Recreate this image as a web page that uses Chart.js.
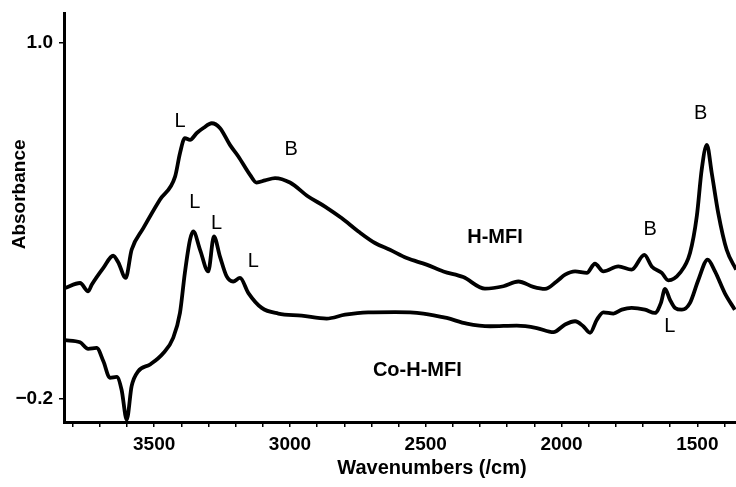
<!DOCTYPE html>
<html>
<head>
<meta charset="utf-8">
<script src="https://cdn.jsdelivr.net/npm/chart.js@4.4.0/dist/chart.umd.min.js"></script>
<style>
  html, body { margin: 0; padding: 0; background: #fff; overflow: hidden; }
  #wrap { width: 800px; height: 487px; }
</style>
</head>
<body>
<div id="wrap"><canvas id="spectrum" width="800" height="487"></canvas></div>
<script>
// spectra: wavenumber (/cm) and absorbance
const hmfiWn = [3828, 3773, 3743, 3730, 3687, 3651, 3632, 3605, 3583, 3540, 3479, 3423, 3405, 3387, 3368, 3343, 3319, 3288, 3258, 3221, 3190, 3147, 3123, 3092, 3055, 3000, 2933, 2871, 2810, 2748, 2687, 2632, 2570, 2497, 2435, 2362, 2282, 2214, 2159, 2104, 2061, 2018, 1987, 1950, 1907, 1877, 1846, 1791, 1742, 1695, 1668, 1631, 1607, 1564, 1527, 1502, 1484, 1465, 1447, 1423, 1392, 1357];
const hmfiAbs = [0.174, 0.191, 0.163, 0.185, 0.242, 0.283, 0.260, 0.208, 0.303, 0.376, 0.472, 0.550, 0.629, 0.680, 0.674, 0.697, 0.714, 0.730, 0.714, 0.657, 0.618, 0.556, 0.530, 0.537, 0.545, 0.530, 0.483, 0.449, 0.410, 0.365, 0.326, 0.303, 0.275, 0.253, 0.230, 0.211, 0.172, 0.180, 0.196, 0.178, 0.171, 0.196, 0.219, 0.230, 0.225, 0.256, 0.230, 0.247, 0.236, 0.286, 0.247, 0.225, 0.200, 0.225, 0.292, 0.416, 0.573, 0.657, 0.562, 0.427, 0.303, 0.236];

const cohmfiWn = [3828, 3773, 3743, 3712, 3687, 3663, 3638, 3620, 3601, 3583, 3559, 3515, 3466, 3430, 3405, 3387, 3368, 3356, 3331, 3301, 3280, 3258, 3233, 3209, 3184, 3153, 3104, 3043, 2957, 2865, 2797, 2712, 2613, 2509, 2423, 2349, 2263, 2165, 2091, 2030, 1987, 1950, 1920, 1895, 1870, 1846, 1809, 1778, 1742, 1693, 1656, 1634, 1619, 1601, 1582, 1557, 1527, 1496, 1462, 1435, 1399, 1362];
const cohmfiAbs = [-0.002, -0.009, -0.031, -0.028, -0.073, -0.129, -0.126, -0.169, -0.270, -0.157, -0.107, -0.084, -0.045, 0.006, 0.090, 0.225, 0.337, 0.365, 0.303, 0.230, 0.348, 0.281, 0.213, 0.196, 0.208, 0.157, 0.107, 0.088, 0.081, 0.071, 0.084, 0.092, 0.093, 0.088, 0.073, 0.054, 0.045, 0.047, 0.039, 0.025, 0.051, 0.062, 0.045, 0.023, 0.067, 0.092, 0.088, 0.101, 0.107, 0.101, 0.090, 0.124, 0.171, 0.135, 0.107, 0.101, 0.124, 0.202, 0.270, 0.230, 0.157, 0.101];

const xTickLabels = [3500, 3000, 2500, 2000, 1500];
const yTickValues = [-0.2, 1.0];

// band assignments (L = Lewis, B = Bronsted) and where they sit
const peakLabels = ["L", "B", "L", "L", "L", "B", "L", "B"];
const peakWn = [3405, 2996, 3350, 3270, 3135, 1674, 1601, 1488];
const peakAbs = [0.736, 0.640, 0.461, 0.393, 0.264, 0.371, 0.045, 0.762];

const seriesNames = ["H-MFI", "Co-H-MFI"];
const seriesNameWn = [2245, 2531];
const seriesNameAbs = [0.346, -0.103];

const FONT = '"Liberation Sans", Arial, sans-serif';

function toPoints(xs, ys) {
    return xs.map((x, i) => ({ x: x, y: ys[i] }));
}

// text drawn on top of the plot: band letters, sample names, y title
const textLabels = {
    id: "textLabels",
    afterDatasetsDraw(chart) {
        const { ctx, scales } = chart;
        const x = scales.x, y = scales.y;
        ctx.save();
        ctx.fillStyle = "#000";
        ctx.textAlign = "center";
        ctx.textBaseline = "middle";

        ctx.font = "20px " + FONT;
        peakLabels.forEach((t, i) => {
            ctx.fillText(t, x.getPixelForValue(peakWn[i]), y.getPixelForValue(peakAbs[i]));
        });

        ctx.font = "bold 20px " + FONT;
        seriesNames.forEach((t, i) => {
            ctx.fillText(t, x.getPixelForValue(seriesNameWn[i]), y.getPixelForValue(seriesNameAbs[i]));
        });

        ctx.translate(20, y.getPixelForValue(0.49));
        ctx.rotate(-Math.PI / 2);
        ctx.font = "bold 19px " + FONT;
        ctx.fillText("Absorbance", 0, 0);
        ctx.restore();
    }
};

new Chart(document.getElementById("spectrum"), {
    type: "line",
    data: {
        datasets: [
            {
                label: "H-MFI",
                data: toPoints(hmfiWn, hmfiAbs),
                borderColor: "#000",
                borderWidth: 3.8,
                pointRadius: 0,
                cubicInterpolationMode: "monotone",
                fill: false
            },
            {
                label: "Co-H-MFI",
                data: toPoints(cohmfiWn, cohmfiAbs),
                borderColor: "#000",
                borderWidth: 3.8,
                pointRadius: 0,
                cubicInterpolationMode: "monotone",
                fill: false
            }
        ]
    },
    options: {
        responsive: false,
        animation: false,
        layout: { padding: { top: 13, right: 0, bottom: 0, left: 0 } },
        plugins: { legend: { display: false }, tooltip: { enabled: false } },
        scales: {
            x: {
                type: "linear",
                reverse: true,
                min: 1122,
                max: 3832,
                afterFit: s => { s.height = 65; s.paddingLeft = 0; s.paddingRight = 0; },
                afterBuildTicks: s => {
                    const t = [];
                    for (let v = 3800; v >= 1200; v -= 100) t.push({ value: v });
                    s.ticks = t;
                },
                ticks: {
                    autoSkip: false,
                    maxRotation: 0,
                    padding: 6,
                    color: "#000",
                    font: { family: FONT, size: 19, weight: "bold" },
                    callback: v => xTickLabels.includes(v) ? String(v) : ""
                },
                grid: { drawOnChartArea: false, drawTicks: true, tickLength: 5, color: "#000", lineWidth: 1.5 },
                border: { display: true, color: "#000", width: 3 },
                title: {
                    display: true,
                    text: "Wavenumbers (/cm)",
                    color: "#000",
                    font: { family: FONT, size: 20, weight: "bold" },
                    padding: { top: 0, bottom: 7 }
                }
            },
            y: {
                min: -0.278,
                max: 1.102,
                afterFit: s => { s.width = 64; s.paddingTop = 0; s.paddingBottom = 0; },
                afterBuildTicks: s => { s.ticks = yTickValues.map(v => ({ value: v })); },
                ticks: {
                    padding: 6,
                    color: "#000",
                    font: { family: FONT, size: 19, weight: "bold" },
                    callback: v => v.toFixed(1).replace("-", "\u2212")
                },
                grid: { drawOnChartArea: false, drawTicks: true, tickLength: 5, color: "#000", lineWidth: 1.5 },
                border: { display: true, color: "#000", width: 3 }
            }
        }
    },
    plugins: [textLabels]
});
</script>
</body>
</html>
